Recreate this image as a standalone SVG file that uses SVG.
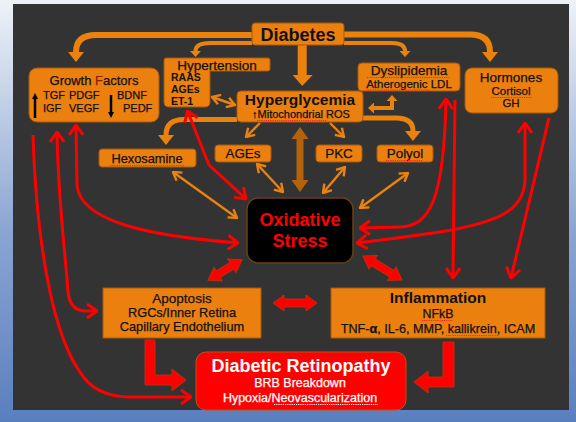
<svg xmlns="http://www.w3.org/2000/svg" width="576" height="422" viewBox="0 0 576 422">
<defs>
<linearGradient id="bg" x1="0" y1="0" x2="0" y2="1">
<stop offset="0" stop-color="#eef2f7"/>
<stop offset="0.55" stop-color="#8aa5d2"/>
<stop offset="1" stop-color="#5a7fbf"/>
</linearGradient>
<marker id="hThick" viewBox="0 0 10 16" refX="0" refY="8" markerWidth="10" markerHeight="16" markerUnits="userSpaceOnUse" orient="auto-start-reverse">
<path d="M0,0 L10,8 L0,16 Z" fill="#ec820e"/>
</marker>
<marker id="hMed" viewBox="0 0 6 11" refX="0" refY="5.5" markerWidth="6" markerHeight="11" markerUnits="userSpaceOnUse" orient="auto-start-reverse">
<path d="M0,0 L6,5.5 L0,11 Z" fill="#ec820e"/>
</marker>
<marker id="hOr" viewBox="0 0 10 12" refX="9" refY="6" markerWidth="10" markerHeight="12" markerUnits="userSpaceOnUse" orient="auto-start-reverse">
<path d="M1,1 L9,6 L1,11" fill="none" stroke="#ec820e" stroke-width="2.4"/>
</marker>
<marker id="hRed" viewBox="0 0 12 16" refX="11" refY="8" markerWidth="12" markerHeight="16" markerUnits="userSpaceOnUse" orient="auto-start-reverse">
<path d="M1,1 L11,8 L1,15" fill="none" stroke="#ff0000" stroke-width="3"/>
</marker>
<marker id="hBlk" viewBox="0 0 6 6" refX="0" refY="3" markerWidth="6" markerHeight="6" markerUnits="userSpaceOnUse" orient="auto">
<path d="M0,0 L6,3 L0,6 Z" fill="#000"/>
</marker>
</defs>
<style>
text{font-family:"Liberation Sans",Arial,sans-serif;fill:#111;stroke:#111;stroke-width:0.25}
.box{fill:#ec800e;stroke:#a8580a;stroke-width:1}
.b{font-weight:bold;stroke-width:0}
.m{text-anchor:middle}
.thick{fill:none;stroke:#ec820e;stroke-width:6;marker-end:url(#hThick)}
.med{fill:none;stroke:#ec820e;stroke-width:4;marker-end:url(#hMed)}
.or{fill:none;stroke:#ec820e;stroke-width:2.4;marker-end:url(#hOr)}
.or2{marker-start:url(#hOr)}
.red{fill:none;stroke:#ff0000;stroke-width:3;marker-end:url(#hRed)}
.red2{marker-start:url(#hRed)}
.blk{fill:#ff0000;stroke:#b8300c;stroke-width:1}
.sq{fill:none;stroke:#ff2020;stroke-width:1.2;stroke-dasharray:1.2 1}
.wt{fill:#fff;stroke:#fff}
.rd{fill:#ff0000;stroke:#ff0000}
</style>
<rect x="0" y="0" width="576" height="422" fill="url(#bg)"/>
<rect x="13" y="4" width="556" height="406" fill="#333333"/>

<g id="connectors">
<path class="thick" d="M252,35 H96 Q76,35 76,52"/>
<path class="thick" d="M344,34.5 H470 Q490,34.5 490,52"/>
<path class="med" d="M252,43 H210 Q195.5,43 195.5,51"/>
<path class="med" d="M344,43 H392 Q405,43 405,51"/>
<polygon points="297.7,45 306.7,45 306.7,75 312.7,75 302.2,86 292.7,75 297.7,75" fill="#ec820e"/>
<path class="thick" d="M237,119.5 H184 Q166,119.5 166,135" style="stroke-width:5"/>
<path class="thick" d="M363,118 H396 Q413,118 413,131" style="stroke-width:5"/>
<path class="or" d="M260,123 L246,137"/>
<path class="or" d="M330,123 L344,137"/>
<path class="or or2" d="M212,97 L235,105"/>
<path class="med" d="M374,108 H392 V101" style="marker-start:url(#hMed)"/>
<polygon points="300,127 308.5,139 303.5,139 303.5,180 308.5,180 300,192 291.5,180 296.5,180 296.5,139 291.5,139" fill="#b4620c"/>
<path class="or or2" d="M173,172 L237,218"/>
<path class="or or2" d="M257,164 L283,192"/>
<path class="or or2" d="M345,167 L323,193"/>
<path class="or or2" d="M408,173 L360,208"/>
<path class="red red2" d="M187.5,111 L209,165 L246,199"/>
<path class="red red2" d="M76,125 L77,185 C80,222 150,236 238,243"/>
<path class="red red2" d="M57,132 C58,200 66,260 68,292 Q70,311 86,311 L97,311"/>
<path class="red" d="M33,135 C36,230 50,330 80,372 Q95,397 130,397 L191,397"/>
<path class="red red2" d="M446,99 C444,200 430,226 400,227 L360,228"/>
<path class="red" d="M455,100 L453,278"/>
<path class="red red2" d="M525,123 V180 C524,210 500,222 440,232 Q400,238 357,243"/>
<path class="red" d="M549,118 L511,278"/>
<polygon class="blk" transform="translate(225,270) rotate(-31.2)" points="-20,0 -8,-8 -8,-3.8 8,-3.8 8,-8 20,0 8,8 8,3.8 -8,3.8 -8,8"/>
<polygon class="blk" transform="translate(382.5,268) rotate(31.6)" points="-23,0 -11,-8 -11,-3.8 11,-3.8 11,-8 23,0 11,8 11,3.8 -11,3.8 -11,8"/>
<polygon class="blk" points="273,303 284,295 284,299 306,299 306,295 317,303 306,311 306,307 284,307 284,311"/>
<path class="blk" d="M145,340 H155 V375 H172 V369 L186,380 L172,391 V385 H145 Z"/>
<path class="blk" d="M454,342 H443 V377 H428 V371 L414,382 L428,393 V387 H454 Z"/>
</g>

<g id="diabetes">
<rect class="box" x="252" y="23" width="92" height="22" rx="3"/>
<text class="b m" x="298" y="41" font-size="18">Diabetes</text>
</g>

<g id="growth-factors">
<rect class="box" x="29" y="68" width="130" height="54" rx="8"/>
<text class="m" x="94" y="85" font-size="13">Growth <tspan fill="#8a2000" stroke="#8a2000">F</tspan>actors</text>
<text x="43" y="99" font-size="11">TGF</text>
<text x="69" y="99" font-size="11">PDGF</text>
<text x="117" y="99" font-size="11">BDNF</text>
<text x="43" y="112" font-size="11">IGF</text>
<text x="69" y="112" font-size="11">VEGF</text>
<text x="123" y="112" font-size="11">PEDF</text>
<line x1="35" y1="118" x2="35" y2="99" stroke="#000" stroke-width="2.5" marker-end="url(#hBlk)"/>
<line x1="111" y1="95" x2="111" y2="112" stroke="#000" stroke-width="2.5" marker-end="url(#hBlk)"/>
</g>

<g id="hypertension">
<path class="box" d="M166,58 H268 Q270,58 270,60 V69 Q270,71 268,71 H210 V102 Q210,107 205,107 H169 Q164,107 164,102 V60 Q164,58 166,58 Z"/>
<text class="m" x="217" y="69.5" font-size="13.5">Hypertension</text>
<text class="b" x="171" y="81" font-size="10.5">RAAS</text>
<text class="b" x="171" y="93" font-size="10.5">AGEs</text>
<text class="b" x="171" y="105" font-size="10.5">ET-1</text>
</g>

<g id="hyperglycemia">
<rect class="box" x="237" y="91" width="126" height="31" rx="4"/>
<text class="b m" x="300" y="105" font-size="15.5">Hyperglycemia</text>
<text class="m" x="301" y="117.5" font-size="11"><tspan font-weight="bold">↑</tspan>Mitochondrial ROS</text>
<path class="sq" d="M257,120.5 H327"/>
</g>

<g id="dyslipidemia">
<rect class="box" x="358" y="63" width="102" height="28" rx="4"/>
<text class="m" x="409" y="74.5" font-size="13.5">Dyslipidemia</text>
<path class="sq" d="M367,77.5 H449"/>
<text class="m" x="409" y="88" font-size="11.5">Atherogenic LDL</text>
<path class="sq" d="M366,90 H430"/>
</g>

<g id="hormones">
<rect class="box" x="465" y="68" width="93" height="45" rx="7"/>
<text class="m" x="511" y="82" font-size="13.5">Hormones</text>
<text class="m" x="511" y="95" font-size="11.5">Cortisol</text>
<path class="sq" d="M491,97.5 H532"/>
<text class="m" x="511" y="107" font-size="11.5">GH</text>
</g>

<g id="hexosamine">
<rect class="box" x="99" y="149" width="97" height="18" rx="3"/>
<text class="m" x="147" y="163" font-size="12.8">Hexosamine</text>
<path class="sq" d="M110,165.5 H185"/>
</g>

<g id="ages">
<rect class="box" x="215" y="145" width="56" height="17" rx="3"/>
<text class="m" x="243" y="158" font-size="13.4">AGEs</text>
</g>

<g id="pkc">
<rect class="box" x="316" y="145" width="46" height="17" rx="3"/>
<text class="m" x="339" y="158" font-size="13.4">PKC</text>
</g>

<g id="polyol">
<rect class="box" x="377" y="145" width="56" height="17" rx="3"/>
<text class="m" x="405" y="158" font-size="13.4">Polyol</text>
<path class="sq" d="M386,160.5 H423"/>
</g>

<g id="oxidative-stress">
<rect x="247" y="198" width="106" height="65" rx="11" fill="#000" stroke="#6b4010" stroke-width="1.5"/>
<text class="b m rd" x="300" y="226" font-size="18">Oxidative</text>
<text class="b m rd" x="300" y="247" font-size="18">Stress</text>
</g>

<g id="apoptosis">
<rect class="box" x="103" y="288" width="158" height="50"/>
<text class="m" x="182" y="303" font-size="13.5">Apoptosis</text>
<text class="m" x="182" y="317" font-size="12.8">RGCs/Inner Retina</text>
<text class="m" x="182" y="331" font-size="12.8">Capillary Endothelium</text>
</g>

<g id="inflammation">
<rect class="box" x="331" y="288" width="214" height="50"/>
<text class="b m" x="438" y="303" font-size="15.5">Inflammation</text>
<text class="m" x="438" y="318" font-size="12.4">NFkB</text>
<path class="sq" d="M422,320.5 H453"/>
<text class="m" x="438" y="333" font-size="12.6">TNF-<tspan font-weight="bold">α</tspan>, IL-6, MMP, kallikrein, ICAM</text>
<path class="sq" d="M446,335.5 H499"/>
</g>

<g id="diabetic-retinopathy">
<rect x="196" y="352" width="210" height="58" rx="10" fill="#ff0000" stroke="#c05010" stroke-width="1"/>
<text class="b m wt" x="301" y="372" font-size="18" style="stroke-width:0">Diabetic Retinopathy</text>
<text class="m wt" x="300" y="387" font-size="12.5">BRB Breakdown</text>
<text class="m wt" x="300" y="402" font-size="12.5">Hypoxia/Neovascularization</text>
<path class="sq" d="M274,404.5 H378" style="stroke:#ffffff"/>
</g>
</svg>
